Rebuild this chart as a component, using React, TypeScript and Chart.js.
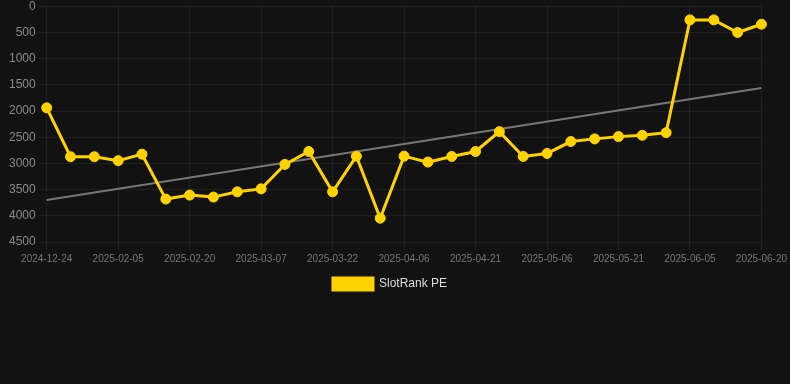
import React, { useEffect, useRef } from "react";
import { Chart, registerables } from "chart.js";

Chart.register(...registerables);

const dates = [
  "2024-12-24", "2025-01-26", "2025-01-31", "2025-02-05", "2025-02-10", "2025-02-15",
  "2025-02-20", "2025-02-25", "2025-03-02", "2025-03-07", "2025-03-12", "2025-03-17",
  "2025-03-22", "2025-03-27", "2025-04-01", "2025-04-06", "2025-04-11", "2025-04-16",
  "2025-04-21", "2025-04-26", "2025-05-01", "2025-05-06", "2025-05-11", "2025-05-16",
  "2025-05-21", "2025-05-26", "2025-05-31", "2025-06-05", "2025-06-10", "2025-06-15",
  "2025-06-20",
];

const slotRankPE = [
  1940, 2873, 2873, 2948, 2824, 3681, 3605, 3643, 3543, 3486, 3019, 2773,
  3543, 2862, 4046, 2862, 2975, 2867, 2773, 2394, 2867, 2810, 2583, 2532,
  2489, 2464, 2413, 261, 261, 502, 344,
];

const trendStart = 3700;
const trendEnd = 1561;

const seriesLabel = "SlotRank PE";

export default function App() {
  const ref = useRef<HTMLCanvasElement | null>(null);

  useEffect(() => {
    document.body.style.margin = "0";
    document.body.style.background = "#121212";
    const trend = dates.map((_, i) =>
      i === 0 ? trendStart : i === dates.length - 1 ? trendEnd : null
    );
    const chart = new Chart(ref.current!, {
      type: "line",
      data: {
        labels: dates,
        datasets: [
          {
            label: seriesLabel,
            data: slotRankPE,
            borderColor: "#FFD200",
            backgroundColor: "#FFD200",
            borderWidth: 3,
            pointRadius: 5,
            pointBorderWidth: 1,
            pointHoverRadius: 5,
            pointBackgroundColor: "#FFD200",
            pointBorderColor: "#FFD200",
            tension: 0,
            order: 0,
          },
          {
            label: "trend",
            data: trend,
            borderColor: "#777777",
            backgroundColor: "#777777",
            borderWidth: 2,
            pointRadius: 0,
            spanGaps: true,
            order: 1,
          },
        ],
      },
      options: {
        animation: false,
        responsive: true,
        maintainAspectRatio: false,
        layout: { padding: { left: 6, right: 16, top: 0, bottom: 0 } },
        plugins: {
          legend: {
            position: "bottom",
            labels: {
              color: "#dddddd",
              font: { size: 12 },
              boxWidth: 40,
              boxHeight: 12,
              filter: (item) => item.text === seriesLabel,
            },
          },
          tooltip: { enabled: false },
        },
        scales: {
          x: {
            grid: { color: "rgba(255,255,255,0.06)", drawTicks: true },
            border: { display: false },
            ticks: {
              color: "#777777",
              font: { size: 10 },
              maxRotation: 0,
              autoSkip: true,
              maxTicksLimit: 11,
            },
          },
          y: {
            reverse: true,
            min: 0,
            max: 4500,
            grid: { color: "rgba(255,255,255,0.06)" },
            border: { display: false },
            ticks: {
              stepSize: 500,
              color: "#8a8a8a",
              font: { size: 12 },
              callback: (v) => String(v),
            },
          },
        },
      },
    });
    return () => chart.destroy();
  }, []);

  return (
    <div style={{ width: 790, height: 384, background: "#121212", overflow: "hidden" }}>
      <div style={{ position: "relative", width: 790, height: 304, marginTop: -4 }}>
        <canvas ref={ref} />
      </div>
    </div>
  );
}
